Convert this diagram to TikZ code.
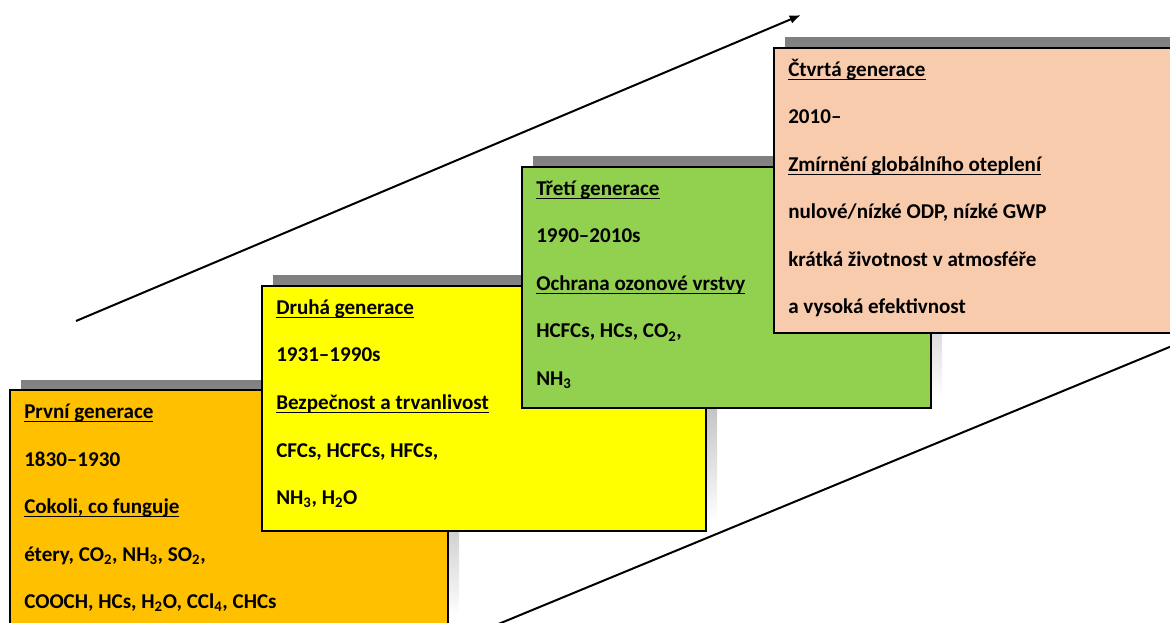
\documentclass[tikz,border=0pt]{standalone}
\usepackage{fontspec}
\setmainfont{Carlito}
\usetikzlibrary{arrows.meta}

\definecolor{gold}{HTML}{FFC000}
\definecolor{lemon}{HTML}{FFFF00}
\definecolor{leaf}{HTML}{92D050}
\definecolor{peach}{HTML}{F8CBAD}
\definecolor{shade}{HTML}{808080}

% underline that sits just below the baseline, crossing the descenders
\newsavebox\ulbox
\newcommand\ulin[1]{\sbox\ulbox{#1}\rlap{\rule[-2.7pt]{\wd\ulbox}{1.15pt}}\usebox\ulbox}
\newcommand\sub[1]{\textsubscript{#1}}

% a generation box with its offset shadow; (#1) is its top left corner
\newcommand\genbox[6]{%
  \fill[shade] ({#2+11},{#3-10}) rectangle ({#4+11},{#5-10});
  \draw[genbox, fill=#6] (#2,#3) rectangle (#4,#5);
  \coordinate (#1) at (#2,#3);
}

\begin{document}
\begin{tikzpicture}[x=0.75pt,y=-0.75pt,
  genbox/.style={draw=black, line width=0.9pt},
  ln/.style={anchor=base west, inner sep=0pt,
    font=\fontsize{15.8}{18}\selectfont\bfseries},
  trend/.style={line width=1.5pt, draw=black}]

\useasboundingbox (0,0) rectangle (1170,623);

% rising trend lines
\coordinate (up0) at (76,321);
\coordinate (up1) at (801,15);
\draw[trend, -{Latex[length=8.5pt,width=6.5pt]}] (up0) -- (up1);
\coordinate (lo0) at (496,625);
\coordinate (lo1) at (1172,346);
\draw[trend] (lo0) -- (lo1);

% first generation
\genbox{g1}{10}{390}{448}{626}{gold}
\node[ln] (g1a) at ([shift={(14,28.5)}]g1) {\ulin{První generace}};
\node[ln] (g1b) at ([shift={(0,47.5)}]g1a.base west) {1830–1930};
\node[ln] (g1c) at ([shift={(0,47.5)}]g1b.base west) {\ulin{Cokoli, co funguje}};
\node[ln] (g1d) at ([shift={(0,47.5)}]g1c.base west) {étery, CO\sub{2}, NH\sub{3}, SO\sub{2},};
\node[ln] (g1e) at ([shift={(0,47.5)}]g1d.base west) {COOCH, HCs, H\sub{2}O, CCl\sub{4}, CHCs};

% second generation
\genbox{g2}{262}{286}{706}{531}{lemon}
\node[ln] (g2a) at ([shift={(14,28.5)}]g2) {\ulin{Druhá generace}};
\node[ln] (g2b) at ([shift={(0,47.5)}]g2a.base west) {1931–1990s};
\node[ln] (g2c) at ([shift={(0,47.5)}]g2b.base west) {\ulin{Bezpečnost a trvanlivost}};
\node[ln] (g2d) at ([shift={(0,47.5)}]g2c.base west) {CFCs, HCFCs, HFCs,};
\node[ln] (g2e) at ([shift={(0,47.5)}]g2d.base west) {NH\sub{3}, H\sub{2}O};

% third generation
\genbox{g3}{522}{167}{931}{408}{leaf}
\node[ln] (g3a) at ([shift={(14,28.5)}]g3) {\ulin{Třetí generace}};
\node[ln] (g3b) at ([shift={(0,47.5)}]g3a.base west) {1990–2010s};
\node[ln] (g3c) at ([shift={(0,47.5)}]g3b.base west) {\ulin{Ochrana ozonové vrstvy}};
\node[ln] (g3d) at ([shift={(0,47.5)}]g3c.base west) {HCFCs, HCs, CO\sub{2},};
\node[ln] (g3e) at ([shift={(0,47.5)}]g3d.base west) {NH\sub{3}};

% fourth generation
\genbox{g4}{774}{48}{1172}{333}{peach}
\node[ln] (g4a) at ([shift={(14,28.5)}]g4) {\ulin{Čtvrtá generace}};
\node[ln] (g4b) at ([shift={(0,47.5)}]g4a.base west) {2010–};
\node[ln] (g4c) at ([shift={(0,47.5)}]g4b.base west) {\ulin{Zmírnění globálního oteplení}};
\node[ln] (g4d) at ([shift={(0,47.5)}]g4c.base west) {nulové/nízké ODP, nízké GWP};
\node[ln] (g4e) at ([shift={(0,47.5)}]g4d.base west) {krátká životnost v atmosféře};
\node[ln] (g4f) at ([shift={(0,47.5)}]g4e.base west) {a vysoká efektivnost};

\end{tikzpicture}
\end{document}
